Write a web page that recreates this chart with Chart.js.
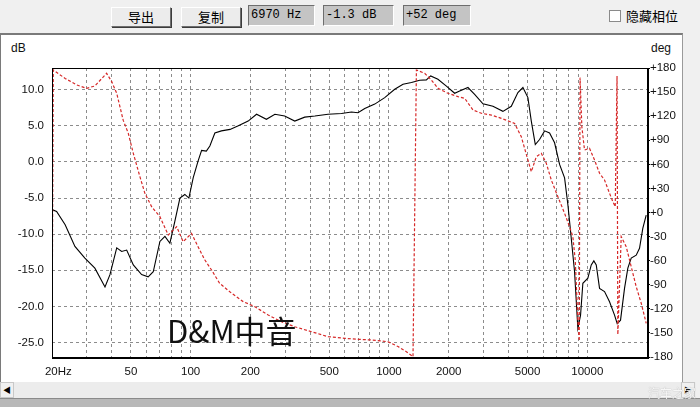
<!DOCTYPE html>
<html>
<head>
<meta charset="utf-8">
<script src="https://cdn.jsdelivr.net/npm/chart.js@4/dist/chart.umd.min.js"></script>
<style>
html,body{margin:0;padding:0;}
body{width:700px;height:407px;background:#f0f0f0;position:relative;overflow:hidden;font-family:"Noto Sans CJK SC",sans-serif;}
.btn{position:absolute;top:7px;height:18px;width:58px;background:#ececec;border:1px solid;border-color:#fff #6e6e6e #6e6e6e #fff;box-shadow:1px 1px 0 #3c3c3c;font-size:13px;line-height:18px;text-align:center;color:#000;}
.box{position:absolute;top:5px;height:21px;background:#c4c4c4;border:1px solid;border-color:#6e6e6e #fff #fff #6e6e6e;font:12px "Liberation Mono",monospace;line-height:19px;padding-left:2px;box-sizing:border-box;color:#000;}
#panel{position:absolute;left:0;top:33px;width:683px;height:349px;background:#fff;border-top:2px solid #7a7a7a;border-left:1px solid #7a7a7a;border-right:1px solid #9a9a9a;box-sizing:border-box;}
#hscroll{position:absolute;left:0;top:382px;width:696px;height:16px;background:#ececec;}
.arrow{position:absolute;top:0;width:14px;height:16px;background:#f0f0f0;border:1px solid #c8c8c8;box-sizing:border-box;font-size:8px;line-height:14px;text-align:center;color:#000;}
#bottom{position:absolute;left:0;top:398px;width:700px;height:9px;background:#b8b8b8;border-top:1px solid #8a8a8a;}
#chk{position:absolute;left:609px;top:10px;width:10px;height:10px;background:#fff;border:1px solid #8a8a8a;}
.lbl{position:absolute;font:12px "Liberation Sans",sans-serif;color:#111;}
#brand{position:absolute;left:167px;top:314px;font-size:31px;line-height:31px;color:#111;z-index:3;}
#wm{position:absolute;left:648px;top:384px;font-size:12px;color:rgba(255,255,255,0.9);text-shadow:0 0 1px #999;z-index:3;}
canvas{position:absolute;left:0;top:0;z-index:2;}
</style>
</head>
<body>
<div class="btn" style="left:111px">导出</div>
<div class="btn" style="left:181px">复制</div>
<div class="box" style="left:248px;width:67px">6970 Hz</div>
<div class="box" style="left:323px;width:71px">-1.3 dB</div>
<div class="box" style="left:403px;width:68px">+52 deg</div>
<div id="chk"></div>
<div style="position:absolute;left:626px;top:6px;font-size:13px;color:#000">隐藏相位</div>
<div id="panel"></div>
<div class="lbl" style="left:11px;top:41px">dB</div>
<div class="lbl" style="left:651px;top:41px">deg</div>
<div id="hscroll">
  <div class="arrow" style="left:0">&#9664;</div>
  <div class="arrow" style="left:681px">&#9654;</div>
</div>
<div id="bottom"></div>
<div id="brand">D&amp;M中音</div>
<div id="wm">汽车之家</div>
<canvas id="fr" width="700" height="407"></canvas>
<script>
// ================= DATA =================
const magFreq = [20,21.1,23.3,26.1,29.3,32.9,37,39.2,42.4,44.9,47.6,51.4,56.6,61.1,64.8,70,74.2,78.6,83.3,88.3,
  93.5,98,103,109,113.6,120,125,132.5,143,158,174,195,215,241,266,298,335,376,423,493,
  576,647,698,755,848,952,1069,1177,1298,1429,1544,1623,1766,1948,2144,2272,2502,2704,2978,3344,
  3754,4138,4468,4736,5018,5220,5468,5746,6090,6454,6840,7248,7682,7980,8234,8626,8962,9248,9498,10066,
  10470,10790,11096,11528,12216,12946,13720,14156,14708,15406,16012,16652,17646,18336,19048,19816];
const magDb = [-6.6,-6.85,-8.7,-11.7,-13.3,-14.7,-17.3,-15.6,-11.9,-12.4,-12.2,-14.25,-15.6,-15.9,-15.2,-11.0,-10.3,-11.25,-8.2,-5.0,
  -4.5,-5.0,-2.2,0.1,1.6,1.5,2.2,4.0,4.3,4.5,5.0,5.65,6.6,5.9,6.6,6.35,5.65,6.2,6.35,6.6,
  6.7,6.9,6.8,7.4,8.0,8.9,10.05,10.75,11.0,11.3,11.35,11.9,11.45,10.5,9.5,9.8,10.3,9.35,8.05,7.7,
  7.0,7.7,9.6,10.3,8.9,5.65,2.4,3.1,4.3,4.0,2.65,-0.35,-2.2,-5.9,-9.6,-15.2,-23.05,-21.2,-16.8,-16.1,
  -14.25,-13.7,-14.25,-17.5,-17.95,-19.35,-21.2,-22.4,-21.9,-17.5,-14.7,-13.3,-12.9,-11.95,-9.2,-7.35];

const phaseFreq = [20,20.3,23.3,26.6,29.9,32.9,37.7,40,42.4,45.7,48.5,51.4,55.5,58.8,63.6,70,77.1,85,91.7,101,
  109,118,127.5,140,161,184,211,246,287,335,407,493,599,698,816,989,1111,1224,1322,1375,
  1514,1636,1766,1984,2228,2408,2652,2922,3282,3686,4300,4648,5018,5220,5532,5862,6212,6584,7106,7682,
  8138,8456,8694,8962,9108,9194,9386,9684,10262,10876,11528,12216,12946,13450,13832,14124,14256,14826,15712,16652,
  17646,18700,19816];
const phaseDeg = [-180,177.5,167,159,154.7,157.6,173.4,163,148.5,115,98.6,73.7,44.6,23.9,7.2,-5.2,-28,-17.7,-36.4,-26,
  -42.6,-59.2,-71.6,-88.2,-100.6,-111,-117.4,-127.7,-136,-142.3,-148.5,-154.7,-156.7,-158,-158.8,-161,-167,-173.4,-179.6,177.5,
  173.4,165,154.7,148.5,144.3,142.3,127.7,123.6,121.4,117.3,111,94.4,65.4,50.8,69.5,73.7,61.3,40.5,19.7,-1,
  -17.7,-30.1,-59.2,-134,-160,168,107,77.8,80,65.4,48.8,40.5,23.9,13.5,7.2,170,-152,-30,-42.6,-67.5,
  -92.4,-113,-138];

// tick positions / labels
const freqTicks = [20,30,40,50,60,70,80,90,100,200,300,400,500,600,700,800,900,
  1000,2000,3000,4000,5000,6000,7000,8000,9000,10000,20000];
const freqLabels = {20:"    20Hz",50:"50",100:"100",200:"200",500:"500",1000:"1000",2000:"2000",5000:"5000",10000:"10000"};
const dbTicks = [-25,-20,-15,-10,-5,0,5,10];
const degTicks = [-180,-150,-120,-90,-60,-30,0,30,60,90,120,150,180];

const GRID = "#8c8c8c";
const tickFont = {family:"Liberation Sans", size:11.5};

// ================= FRAME =================
const framePlugin = {
  id:"frame",
  afterDraw(chart){
    const {ctx, chartArea:a} = chart;
    ctx.save();
    ctx.fillStyle = "#000";
    ctx.fillRect(a.left, a.top, a.right - a.left + 2, 1);
    ctx.fillRect(a.left, a.top, 1, a.bottom - a.top);
    ctx.fillRect(a.right, a.top, 2, a.bottom - a.top + 2);
    ctx.fillRect(a.left, a.bottom, a.right - a.left + 2, 2);
    ctx.restore();
  }
};

new Chart(document.getElementById("fr"), {
  type:"line",
  data:{
    datasets:[
      {
        label:"phase",
        data:phaseFreq.map((f,i)=>({x:f,y:phaseDeg[i]})),
        yAxisID:"y2",
        borderColor:"#d62828",
        borderWidth:1.2,
        borderDash:[3,2],
        pointRadius:0,
        tension:0
      },
      {
        label:"dB",
        data:magFreq.map((f,i)=>({x:f,y:magDb[i]})),
        yAxisID:"y",
        borderColor:"#000",
        borderWidth:1.1,
        pointRadius:0,
        tension:0
      }
    ]
  },
  options:{
    responsive:false,
    animation:false,
    layout:{padding:{top:68,left:0,right:0,bottom:0}},
    plugins:{legend:{display:false}, tooltip:{enabled:false}},
    scales:{
      x:{
        type:"logarithmic",
        min:20, max:20000,
        afterBuildTicks:s=>{ s.ticks = freqTicks.map(v=>({value:v})); },
        afterFit:s=>{ s.height = 50; },
        border:{display:false, dash:[3,3]},
        grid:{
          drawTicks:false,
          color:c=>(c.tick && (c.tick.value===20 || c.tick.value===20000)) ? "rgba(0,0,0,0)" : GRID
        },
        ticks:{
          autoSkip:false, maxRotation:0, minRotation:0, padding:8,
          color:"#111", font:tickFont,
          callback:v=>freqLabels[v] || ""
        }
      },
      y:{
        position:"left",
        min:-27, max:13,
        afterBuildTicks:s=>{ s.ticks = dbTicks.map(v=>({value:v})); },
        afterFit:s=>{ s.width = 52; },
        border:{display:false, dash:[3,3]},
        grid:{drawTicks:false, color:GRID},
        ticks:{padding:8, color:"#111", font:tickFont, callback:v=>v.toFixed(1)}
      },
      y2:{
        position:"right",
        min:-180, max:180,
        afterBuildTicks:s=>{ s.ticks = degTicks.map(v=>({value:v})); },
        afterFit:s=>{ s.width = 53; },
        border:{display:false},
        grid:{drawOnChartArea:false, drawTicks:true, tickLength:3, tickColor:"#000", tickWidth:1},
        ticks:{padding:0, color:"#111", font:tickFont, callback:v=>v>0 ? "+"+v : (v===0 ? "+0" : String(v))}
      }
    }
  },
  plugins:[framePlugin]
});
</script>
</body>
</html>
